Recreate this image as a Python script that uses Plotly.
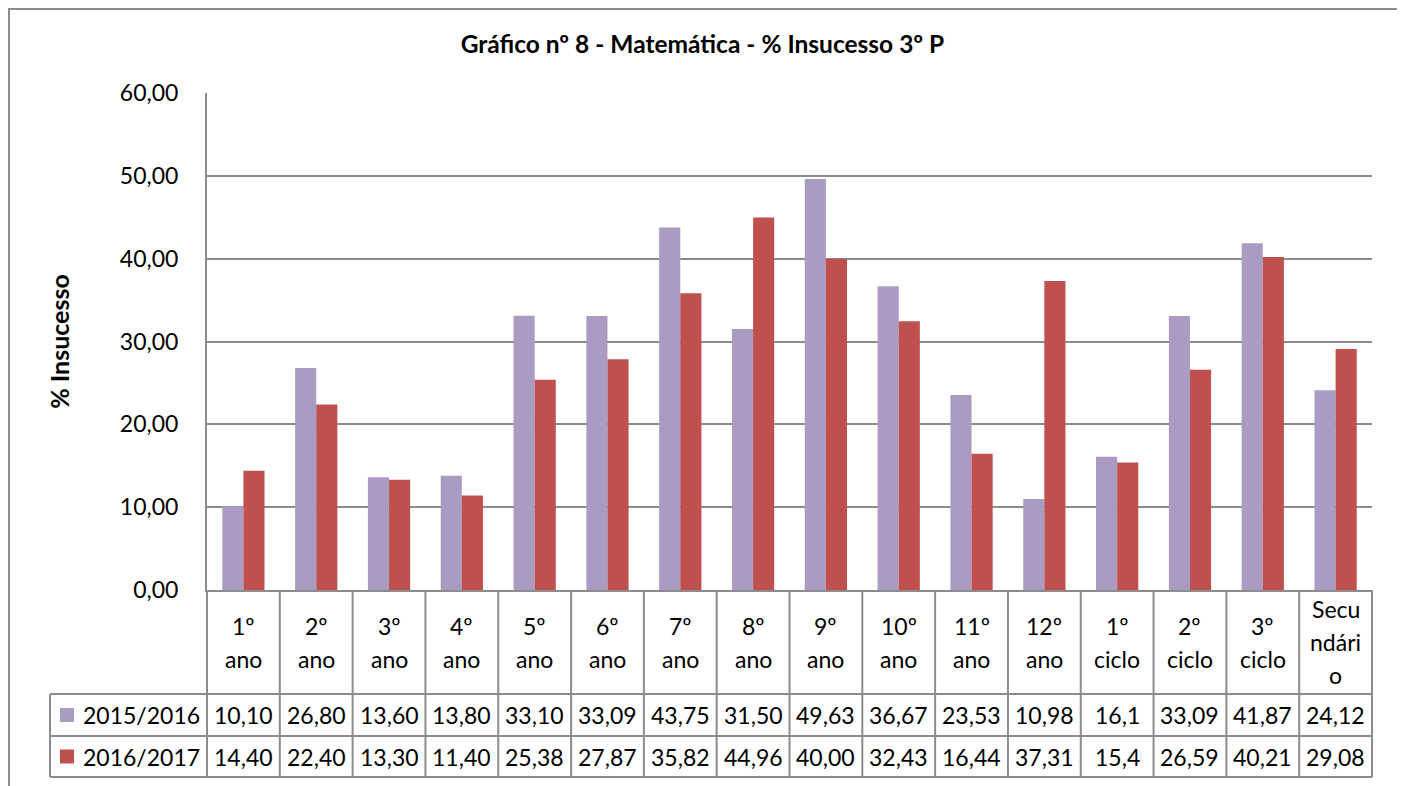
import plotly.graph_objects as go

categories = [
    "1º<br>ano", "2º<br>ano", "3º<br>ano", "4º<br>ano", "5º<br>ano", "6º<br>ano",
    "7º<br>ano", "8º<br>ano", "9º<br>ano", "10º<br>ano", "11º<br>ano", "12º<br>ano",
    "1º<br>ciclo", "2º<br>ciclo", "3º<br>ciclo", "Secu<br>ndári<br>o",
]
series_names = ["2015/2016", "2016/2017"]
values_2015 = ["10,10", "26,80", "13,60", "13,80", "33,10", "33,09", "43,75", "31,50",
               "49,63", "36,67", "23,53", "10,98", "16,1", "33,09", "41,87", "24,12"]
values_2016 = ["14,40", "22,40", "13,30", "11,40", "25,38", "27,87", "35,82", "44,96",
               "40,00", "32,43", "16,44", "37,31", "15,4", "26,59", "40,21", "29,08"]
y_ticks = [0, 10, 20, 30, 40, 50, 60]

colors = ["#A99BC2", "#C0504D"]
grey = "#8C8C8C"
font_family = "Lato, 'Open Sans', sans-serif"

# the page body adds an 8px margin, so pull everything up/left by that much
OFF = 8
W, H = 1405, 786
plot_w, plot_h = 1165, 497
L, T = 207 - OFF, 93 - OFF
R = W - L - plot_w
B = H - T - plot_h


def px_x(p):
    # reference pixel x -> paper x
    return (p - OFF - L) / plot_w


def px_y(p):
    # reference pixel y -> paper y
    return (T + plot_h - (p - OFF)) / plot_h


def to_num(s):
    return float(s.replace(",", "."))


fig = go.Figure()
for name, vals, color in zip(series_names, [values_2015, values_2016], colors):
    fig.add_trace(
        go.Bar(
            x=categories,
            y=[to_num(v) for v in vals],
            name=name,
            marker=dict(color=color, line=dict(width=0)),
        )
    )

# data table under the plot
header_top, header_bottom = 590, 694
row_edges = [694, 736, 777]
line_gap = 33
shapes = []
annotations = []

for i, cat in enumerate(categories):
    lines = cat.split("<br>")
    center = (header_top + header_bottom) / 2
    for j, txt in enumerate(lines):
        yc = center + (j - (len(lines) - 1) / 2) * line_gap
        annotations.append(dict(
            x=i, xref="x", y=px_y(yc), yref="paper", text=txt, showarrow=False,
            font=dict(size=23, color="black"), xanchor="center", yanchor="middle",
        ))

for r, (name, vals, color) in enumerate(zip(series_names, [values_2015, values_2016], colors)):
    yc = (row_edges[r] + row_edges[r + 1]) / 2
    for i, v in enumerate(vals):
        annotations.append(dict(
            x=i, xref="x", y=px_y(yc), yref="paper", text=v, showarrow=False,
            font=dict(size=23, color="black"), xanchor="center", yanchor="middle",
        ))
    shapes.append(dict(
        type="rect", xref="paper", yref="paper",
        x0=px_x(60), x1=px_x(74), y0=px_y(yc - 7), y1=px_y(yc + 7),
        fillcolor=color, line=dict(width=0),
    ))
    annotations.append(dict(
        x=px_x(81), xref="paper", y=px_y(yc), yref="paper", text=name, showarrow=False,
        font=dict(size=23, color="black"), xanchor="left", yanchor="middle",
    ))

line_style = dict(color=grey, width=2)
for y in row_edges:
    shapes.append(dict(type="line", xref="paper", yref="paper",
                       x0=px_x(50), x1=1, y0=px_y(y), y1=px_y(y), line=line_style))
for i in range(1, len(categories)):
    shapes.append(dict(type="line", xref="x", yref="paper",
                       x0=i - 0.5, x1=i - 0.5, y0=px_y(header_top), y1=px_y(row_edges[-1]),
                       line=line_style))
for xe in [0, 1]:
    shapes.append(dict(type="line", xref="paper", yref="paper",
                       x0=xe, x1=xe, y0=px_y(header_top), y1=px_y(row_edges[-1]),
                       line=line_style))
shapes.append(dict(type="line", xref="paper", yref="paper",
                   x0=px_x(50), x1=px_x(50), y0=px_y(row_edges[0]), y1=px_y(row_edges[-1]),
                   line=line_style))

# chart border (bottom edge falls outside the picture)
shapes.append(dict(type="rect", xref="paper", yref="paper",
                   x0=px_x(9), x1=px_x(1401), y0=px_y(820), y1=px_y(9),
                   line=line_style, fillcolor="rgba(0,0,0,0)"))

fig.update_layout(
    width=W,
    height=H,
    margin=dict(l=L, r=R, t=T, b=B),
    paper_bgcolor="white",
    plot_bgcolor="white",
    separators=",.",
    showlegend=False,
    barmode="group",
    bargap=0.42,
    bargroupgap=0,
    font=dict(family=font_family, color="black"),
    title=dict(
        text="<b>Gráfico nº 8 - Matemática - % Insucesso 3º P</b>",
        x=(702.5 - OFF) / W, xref="container", xanchor="center",
        y=1 - (44 - OFF) / H, yref="container", yanchor="middle",
        font=dict(size=24.5, color="black"),
    ),
    shapes=shapes,
    annotations=annotations,
)
fig.update_xaxes(
    type="category",
    range=[-0.5, len(categories) - 0.5],
    showticklabels=False,
    showgrid=False,
    showline=True,
    linecolor=grey,
    linewidth=2,
    ticks="",
)
fig.update_yaxes(
    range=[0, 60],
    tickvals=y_ticks,
    tickformat=".2f",
    showgrid=True,
    gridcolor=grey,
    gridwidth=2,
    zeroline=False,
    showline=True,
    linecolor=grey,
    linewidth=2,
    ticks="",
    ticklabelstandoff=22,
    tickfont=dict(size=23, color="black"),
    title=dict(text="<b>% Insucesso</b>", font=dict(size=25, color="black"), standoff=43),
)

fig.write_html("out.html")
